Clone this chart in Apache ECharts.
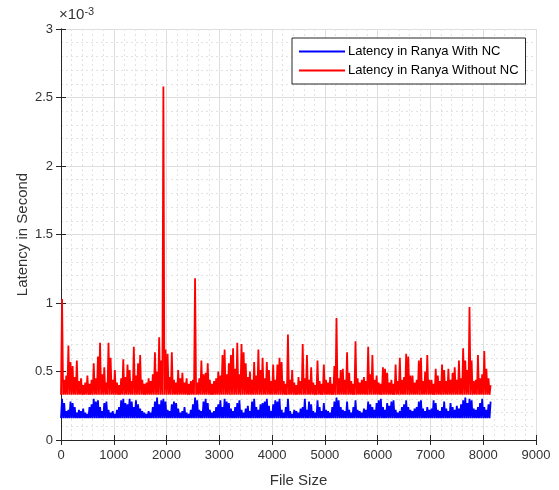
<!DOCTYPE html>
<html>
<head>
<meta charset="utf-8">
<script src="https://cdn.jsdelivr.net/npm/echarts@6/dist/echarts.min.js"></script>
<style>
  html, body { margin: 0; padding: 0; background: #fff; }
  #chart { width: 559px; height: 490px; }
</style>
</head>
<body>
<div id="chart"></div>
<script>
// x step between samples (file size units), values are in 1e-5 s
var STEP = 40
var xTicks = [0, 1000, 2000, 3000, 4000, 5000, 6000, 7000, 8000, 9000]
var yTicks = [0, 0.5, 1, 1.5, 2, 2.5, 3]

// Latency in Ranya With NC (peaks per step, 1e-5 s)
var blueBase = 16
var bluePeaks = [
  30, 27, 21, 22, 28, 27, 24, 20, 22, 21,
  23, 20, 19, 24, 26, 30, 28, 29, 24, 21,
  27, 28, 22, 20, 21, 19, 22, 24, 29, 30,
  27, 26, 30, 28, 24, 29, 26, 23, 21, 20,
  19, 21, 20, 24, 28, 31, 26, 29, 30, 28,
  22, 21, 26, 28, 27, 23, 20, 21, 24, 20,
  19, 22, 26, 31, 29, 22, 21, 28, 30, 27,
  22, 20, 21, 24, 26, 29, 24, 30, 28, 27,
  23, 21, 24, 27, 29, 22, 20, 23, 25, 21,
  28, 30, 24, 22, 26, 27, 28, 30, 25, 21,
  26, 29, 28, 30, 22, 20, 24, 30, 21, 19,
  22, 21, 20, 23, 24, 30, 22, 28, 26, 21,
  20, 29, 24, 21, 27, 22, 21, 20, 24, 28,
  31, 29, 24, 22, 21, 28, 22, 20, 24, 29,
  22, 21, 20, 23, 22, 28, 26, 24, 22, 27,
  29, 30, 24, 22, 27, 25, 28, 29, 22, 20,
  21, 24, 26, 29, 24, 22, 21, 23, 24, 28,
  29, 23, 21, 24, 22, 23, 29, 27, 22, 21,
  24, 28, 23, 21, 27, 24, 22, 25, 23, 26,
  29, 31, 27, 30, 29, 23, 22, 24, 27, 30,
  24, 22, 26, 28
]

// Latency in Ranya Without NC (peaks per step, 1e-5 s)
var redBase = 33
var redPeaks = [
  103, 44, 47, 69, 57, 54, 46, 58, 43, 45,
  40, 42, 47, 41, 44, 56, 45, 61, 71, 48,
  53, 42, 71, 60, 44, 51, 42, 40, 45, 59,
  46, 55, 51, 43, 68, 47, 56, 62, 44, 41,
  42, 45, 43, 48, 64, 50, 75, 58, 258, 66,
  63, 46, 64, 44, 42, 51, 45, 49, 42, 45,
  41, 43, 44, 118, 42, 45, 58, 48, 49, 56,
  44, 41, 43, 45, 50, 47, 62, 66, 48, 56,
  62, 67, 52, 71, 48, 70, 64, 56, 46, 50,
  44, 57, 47, 66, 51, 60, 45, 57, 51, 43,
  55, 44, 55, 60, 57, 43, 41, 77, 44, 51,
  42, 40, 46, 43, 70, 45, 62, 44, 53, 42,
  40, 58, 43, 41, 55, 44, 42, 46, 41, 54,
  89, 45, 51, 52, 44, 64, 49, 43, 41, 72,
  45, 42, 44, 46, 43, 68, 48, 62, 44, 47,
  42, 41, 53, 52, 49, 42, 44, 41, 55, 43,
  60, 44, 46, 63, 61, 47, 47, 42, 44, 58,
  60, 43, 50, 62, 44, 44, 41, 52, 47, 43,
  55, 51, 43, 52, 44, 49, 53, 44, 58, 45,
  67, 58, 51, 97, 58, 43, 44, 62, 45, 48,
  65, 52, 45, 40
]

// base -> peak -> base ... in units of 1e-3 s
function toSeries (peaks, base) {
  var out = []
  peaks.forEach(function (p, i) {
    var x = i * STEP
    out.push([x, base / 100])
    out.push([x + STEP / 2, p / 100])
  })
  return out
}

var axisColor = '#262626'
var font = 'Liberation Sans, Arial, sans-serif'
var labelStyle = { color: '#333', fontSize: 13, fontFamily: font }

var myChart = echarts.init(document.getElementById('chart'), null, { renderer: 'canvas' })
var option = {
  animation: false,
  backgroundColor: '#fff',
  grid: { left: 61, right: 23, top: 29, bottom: 50, containLabel: false, outerBoundsMode: 'none' },
  legend: {
    orient: 'vertical',
    left: 292,
    top: 38,
    padding: [7, 7, 7, 7],
    itemGap: 6,
    itemWidth: 46,
    itemHeight: 2,
    icon: 'rect',
    backgroundColor: '#fff',
    borderColor: axisColor,
    borderWidth: 1,
    borderRadius: 0,
    textStyle: { color: '#000', fontSize: 13, fontFamily: font, padding: [0, 0, 0, -2] },
    data: ['Latency in Ranya With NC', 'Latency in Ranya Without NC']
  },
  graphic: [
    {
      type: 'text',
      left: 59,
      top: 6,
      style: {
        text: '×10{sup|-3}',
        fill: '#333',
        font: '15px ' + font,
        rich: { sup: { fontSize: 11, verticalAlign: 'top', padding: [0, 0, 7, 0], fill: '#333', fontFamily: font } }
      }
    }
  ],
  xAxis: [
    {
      type: 'value',
      min: xTicks[0],
      max: xTicks[xTicks.length - 1],
      interval: 1000,
      name: 'File Size',
      nameLocation: 'middle',
      nameGap: 33,
      nameTextStyle: { color: '#333', fontSize: 15, fontFamily: font },
      axisLine: { onZero: false, lineStyle: { color: axisColor } },
      axisTick: { inside: true, length: 5, lineStyle: { color: axisColor } },
      axisLabel: Object.assign({ margin: 9, formatter: function (v) { return String(v) } }, labelStyle),
      splitLine: { show: true, lineStyle: { color: '#dedede', width: 1 } },
      minorTick: { show: false, splitNumber: 5 },
      minorSplitLine: { show: true, lineStyle: { color: '#e2e2e2', type: [2, 3] } }
    },
    {
      type: 'value',
      position: 'top',
      min: xTicks[0],
      max: xTicks[xTicks.length - 1],
      interval: 1000,
      axisLine: { lineStyle: { color: axisColor } },
      axisTick: { inside: true, length: 5, lineStyle: { color: axisColor } },
      axisLabel: { show: false },
      splitLine: { show: false }
    }
  ],
  yAxis: [
    {
      type: 'value',
      min: yTicks[0],
      max: yTicks[yTicks.length - 1],
      interval: 0.5,
      name: 'Latency in Second',
      nameLocation: 'middle',
      nameGap: 31,
      nameMoveOverlap: false,
      nameTextStyle: { color: '#333', fontSize: 15, fontFamily: font },
      axisLine: { show: true, lineStyle: { color: axisColor } },
      axisTick: { show: true, inside: true, length: 5, lineStyle: { color: axisColor } },
      axisLabel: labelStyle,
      splitLine: { show: true, lineStyle: { color: '#dedede', width: 1 } },
      minorTick: { show: false, splitNumber: 5 },
      minorSplitLine: { show: true, lineStyle: { color: '#e2e2e2', type: [2, 3] } }
    },
    {
      type: 'value',
      position: 'right',
      min: yTicks[0],
      max: yTicks[yTicks.length - 1],
      interval: 0.5,
      axisLine: { show: true, lineStyle: { color: axisColor } },
      axisTick: { show: true, inside: true, length: 5, lineStyle: { color: axisColor } },
      axisLabel: { show: false },
      splitLine: { show: false }
    }
  ],
  series: [
    {
      name: 'Latency in Ranya With NC',
      type: 'line',
      showSymbol: false,
      symbol: 'none',
      color: '#0000ff',
      lineStyle: { width: 1.8, color: '#0000ff' },
      data: toSeries(bluePeaks, blueBase)
    },
    {
      name: 'Latency in Ranya Without NC',
      type: 'line',
      showSymbol: false,
      symbol: 'none',
      color: '#ff0000',
      lineStyle: { width: 1.8, color: '#ff0000' },
      data: toSeries(redPeaks, redBase)
    }
  ]
}
myChart.setOption(option)
</script>
</body>
</html>
